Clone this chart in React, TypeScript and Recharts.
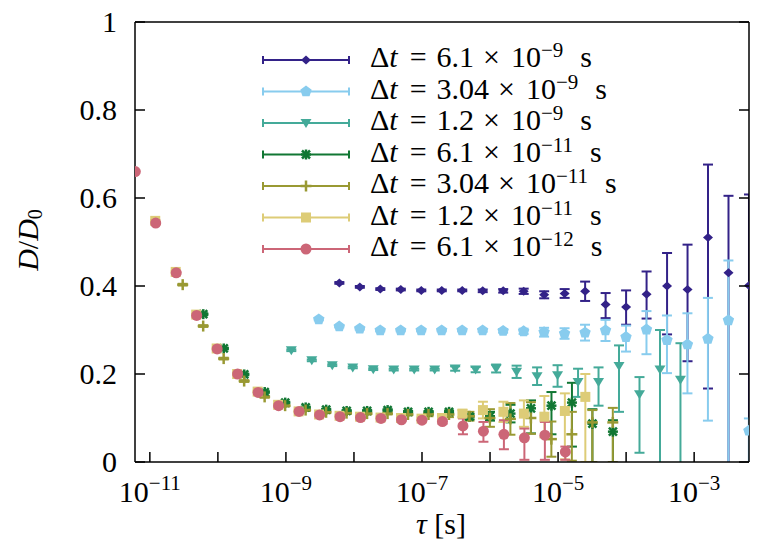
import React from "react";
import { ScatterChart, Scatter, XAxis, YAxis, ErrorBar, Legend, Label } from "recharts";

// chart box & plot frame (svg coords)
const W = 754;
const H = 542;
const MARGIN = { top: 13, right: 12, bottom: 28, left: 27 };
const Y_AXIS_W = 100;
const X_AXIS_H = 60;
const PLOT_LEFT = MARGIN.left + Y_AXIS_W;
const PLOT_TOP = MARGIN.top + 1;
const PLOT_BOTTOM = H - MARGIN.bottom - X_AXIS_H;
const PLOT_RIGHT = W - MARGIN.right - 1;
const TICK_LEN = 10;
const FONT = "'Liberation Serif', 'DejaVu Serif', serif";

const X_DOMAIN = [6.05e-12, 6.4e-3];
const X_TICKS = [1e-11, 1e-10, 1e-9, 1e-8, 1e-7, 1e-6, 1e-5, 1e-4, 1e-3];
const Y_TICKS = [0, 0.2, 0.4, 0.6, 0.8, 1];

// lag multiples of the sampling step
const LAGS = [1, 2, 4, 8, 16, 32, 64, 128, 256, 512, 1024, 2048, 4096, 8192, 16384, 32768, 65536, 131072, 262144, 524288, 1048576, 2097152];

const DT_MANT = ["6.1", "3.04", "1.2", "6.1", "3.04", "1.2", "6.1"];
const DT_EXP = [-9, -9, -9, -11, -11, -11, -12];
const COLORS = ["#332288", "#88CCEE", "#44AA99", "#117733", "#999933", "#DDCC77", "#CC6677"];
const MARKERS = ["diamond", "pentagon", "triangle", "asterisk", "plus", "square", "circle"];

const NAVY_D = [0.407, 0.398, 0.393, 0.392, 0.39, 0.39, 0.39, 0.389, 0.389, 0.388, 0.38, 0.383, 0.388, 0.358, 0.352, 0.381, 0.4, 0.392, 0.51, 0.43, 0.401];
const NAVY_LO = [0.002, 0.002, 0.002, 0.002, 0.002, 0.002, 0.002, 0.003, 0.004, 0.006, 0.008, 0.01, 0.022, 0.031, 0.04, 0.055, 0.11, 0.163, 0.343, 0.45, 0.42];
const NAVY_HI = [0.002, 0.002, 0.002, 0.002, 0.002, 0.002, 0.002, 0.003, 0.004, 0.006, 0.008, 0.01, 0.022, 0.026, 0.038, 0.052, 0.075, 0.102, 0.166, 0.175, 0.207];

const CYAN_D = [0.324, 0.308, 0.303, 0.299, 0.299, 0.299, 0.299, 0.299, 0.299, 0.298, 0.297, 0.295, 0.292, 0.294, 0.299, 0.284, 0.301, 0.277, 0.267, 0.28, 0.322, 0.071];
const CYAN_LO = [0.002, 0.002, 0.002, 0.002, 0.002, 0.002, 0.002, 0.002, 0.003, 0.004, 0.006, 0.01, 0.012, 0.018, 0.024, 0.033, 0.056, 0.075, 0.111, 0.186, 0.34, 0.1];
const CYAN_HI = [0.002, 0.002, 0.002, 0.002, 0.002, 0.002, 0.002, 0.002, 0.003, 0.004, 0.006, 0.01, 0.012, 0.018, 0.024, 0.026, 0.042, 0.056, 0.071, 0.093, 0.136, 0.028];

const TEAL_D = [0.254, 0.231, 0.22, 0.215, 0.211, 0.21, 0.21, 0.21, 0.2125, 0.21, 0.2125, 0.205, 0.195, 0.197, 0.182, 0.182, 0.218, 0.154, 0.21, 0.187];
const TEAL_LO = [0.002, 0.002, 0.002, 0.002, 0.002, 0.002, 0.002, 0.002, 0.005, 0.006, 0.009, 0.014, 0.02, 0.026, 0.034, 0.054, 0.104, 0.133, 0.25, 0.25];
const TEAL_HI = [0.002, 0.002, 0.002, 0.002, 0.002, 0.002, 0.002, 0.002, 0.005, 0.006, 0.009, 0.014, 0.02, 0.023, 0.03, 0.033, 0.047, 0.039, 0.09, 0.083];

const GREEN_D = [0.336, 0.258, 0.199, 0.159, 0.135, 0.124, 0.119, 0.116, 0.116, 0.118, 0.114, 0.114, 0.114, 0.103, 0.104, 0.11, 0.122, 0.128, 0.135, 0.087, 0.069];
const GREEN_LO = [0.002, 0.002, 0.002, 0.002, 0.002, 0.002, 0.002, 0.002, 0.002, 0.002, 0.002, 0.002, 0.003, 0.006, 0.01, 0.02, 0.057, 0.065, 0.1, 0.09, 0.08];
const GREEN_HI = [0.002, 0.002, 0.002, 0.002, 0.002, 0.002, 0.002, 0.002, 0.002, 0.002, 0.002, 0.002, 0.003, 0.006, 0.01, 0.02, 0.018, 0.031, 0.045, 0.033, 0.026];

const OLIVE_D = [0.403, 0.309, 0.235, 0.184, 0.148, 0.128, 0.118, 0.113, 0.111, 0.11, 0.11, 0.108, 0.108, 0.108, 0.104, 0.1, 0.098, 0.1, 0.052, 0.063, 0.09, 0.09];
const OLIVE_LO = [0.002, 0.002, 0.002, 0.002, 0.002, 0.002, 0.002, 0.002, 0.002, 0.002, 0.002, 0.002, 0.004, 0.006, 0.01, 0.02, 0.036, 0.036, 0.04, 0.06, 0.09, 0.09];
const OLIVE_HI = [0.002, 0.002, 0.002, 0.002, 0.002, 0.002, 0.002, 0.002, 0.002, 0.002, 0.002, 0.002, 0.004, 0.006, 0.01, 0.02, 0.036, 0.036, 0.04, 0.051, 0.028, 0.033];

const SAND_D = [0.548, 0.432, 0.335, 0.258, 0.2, 0.16, 0.13, 0.115, 0.108, 0.105, 0.103, 0.101, 0.1, 0.0985, 0.1, 0.11, 0.118, 0.114, 0.11, 0.103, 0.116, 0.148];
const SAND_LO = [0.002, 0.002, 0.002, 0.002, 0.002, 0.002, 0.002, 0.002, 0.002, 0.002, 0.002, 0.002, 0.002, 0.003, 0.004, 0.008, 0.019, 0.023, 0.03, 0.047, 0.11, 0.148];
const SAND_HI = [0.002, 0.002, 0.002, 0.002, 0.002, 0.002, 0.002, 0.002, 0.002, 0.002, 0.002, 0.002, 0.002, 0.003, 0.004, 0.008, 0.019, 0.023, 0.03, 0.047, 0.04, 0.052];

const ROSE_D = [0.66, 0.543, 0.43, 0.333, 0.257, 0.2, 0.158, 0.128, 0.115, 0.107, 0.103, 0.101, 0.099, 0.096, 0.095, 0.092, 0.082, 0.07, 0.063, 0.055, 0.061, 0.023];
const ROSE_LO = [0.002, 0.002, 0.002, 0.002, 0.002, 0.002, 0.002, 0.002, 0.002, 0.002, 0.002, 0.002, 0.002, 0.002, 0.003, 0.005, 0.019, 0.024, 0.034, 0.05, 0.056, 0.018];
const ROSE_HI = [0.002, 0.002, 0.002, 0.002, 0.002, 0.002, 0.002, 0.002, 0.002, 0.002, 0.002, 0.002, 0.002, 0.002, 0.003, 0.005, 0.017, 0.021, 0.032, 0.021, 0.03, 0.012];

const VALUES = [NAVY_D, CYAN_D, TEAL_D, GREEN_D, OLIVE_D, SAND_D, ROSE_D];
const LOWER = [NAVY_LO, CYAN_LO, TEAL_LO, GREEN_LO, OLIVE_LO, SAND_LO, ROSE_LO];
const UPPER = [NAVY_HI, CYAN_HI, TEAL_HI, GREEN_HI, OLIVE_HI, SAND_HI, ROSE_HI];

const SERIES = DT_MANT.map((mant, i) => {
  const dt = Number(`${mant}e${DT_EXP[i]}`);
  return {
    key: `s${i}`,
    mant,
    exp: DT_EXP[i],
    color: COLORS[i],
    marker: MARKERS[i],
    data: VALUES[i].map((d, k) => ({ tau: dt * LAGS[k], d, err: [LOWER[i][k], UPPER[i][k]] })),
  };
});

const Marker = ({ kind, cx, cy, color }) => {
  if (cx == null || cy == null) return null;
  switch (kind) {
    case "diamond":
      return <polygon points={`${cx},${cy - 4.5} ${cx + 5},${cy} ${cx},${cy + 4.5} ${cx - 5},${cy}`} fill={color} />;
    case "pentagon": {
      const pts = [0, 1, 2, 3, 4]
        .map((j) => {
          const a = (-90 + 72 * j) * (Math.PI / 180);
          return `${cx + 6 * Math.cos(a)},${cy + 6 * Math.sin(a)}`;
        })
        .join(" ");
      return <polygon points={pts} fill={color} />;
    }
    case "triangle":
      return <polygon points={`${cx - 5.5},${cy - 4} ${cx + 5.5},${cy - 4} ${cx},${cy + 5}`} fill={color} />;
    case "asterisk":
      return (
        <g stroke={color} strokeWidth={2.5}>
          <line x1={cx - 5} x2={cx + 5} y1={cy} y2={cy} />
          <line x1={cx} x2={cx} y1={cy - 5} y2={cy + 5} />
          <line x1={cx - 4} x2={cx + 4} y1={cy - 4} y2={cy + 4} />
          <line x1={cx - 4} x2={cx + 4} y1={cy + 4} y2={cy - 4} />
        </g>
      );
    case "plus":
      return (
        <g stroke={color} strokeWidth={2.5}>
          <line x1={cx - 5.5} x2={cx + 5.5} y1={cy} y2={cy} />
          <line x1={cx} x2={cx} y1={cy - 5.5} y2={cy + 5.5} />
        </g>
      );
    case "square":
      return <rect x={cx - 5} y={cy - 5} width={10} height={10} fill={color} />;
    default:
      return <circle cx={cx} cy={cy} r={5.5} fill={color} />;
  }
};

const BottomTick = ({ x, payload }) => {
  const exp = Math.round(Math.log10(payload.value));
  return (
    <g>
      <line x1={x} x2={x} y1={PLOT_BOTTOM} y2={PLOT_BOTTOM - TICK_LEN} stroke="#000" strokeWidth={1.5} />
      {exp % 2 !== 0 && (
        <text x={x} y={PLOT_BOTTOM + 40} textAnchor="middle" fontSize={30} fill="#000">
          10
          <tspan dy={-12} fontSize={21}>{`\u2212${-exp}`}</tspan>
        </text>
      )}
    </g>
  );
};

const TopTick = ({ x }) => (
  <line x1={x} x2={x} y1={PLOT_TOP} y2={PLOT_TOP + TICK_LEN} stroke="#000" strokeWidth={1.5} />
);

const LeftTick = ({ y, payload }) => (
  <g>
    <line x1={PLOT_LEFT} x2={PLOT_LEFT + TICK_LEN} y1={y} y2={y} stroke="#000" strokeWidth={1.5} />
    <text x={PLOT_LEFT - 18} y={y + 10} textAnchor="end" fontSize={30} fill="#000">
      {String(payload.value)}
    </text>
  </g>
);

const RightTick = ({ y }) => (
  <line x1={PLOT_RIGHT} x2={PLOT_RIGHT - TICK_LEN} y1={y} y2={y} stroke="#000" strokeWidth={1.5} />
);

const XTitle = () => (
  <text x={433} y={526} textAnchor="middle" fontSize={30} fill="#000">
    <tspan fontStyle="italic">τ</tspan> [s]
  </text>
);

const YTitle = () => (
  <text x={30} y={232} transform="rotate(-90, 30, 232)" textAnchor="middle" fontSize={30} fill="#000">
    <tspan fontStyle="italic">D</tspan>/<tspan fontStyle="italic">D</tspan>
    <tspan fontSize={20} dy={4}>0</tspan>
  </text>
);

const LegendBox = () => (
  <svg width={460} height={230} style={{ fontFamily: FONT, overflow: "visible" }}>
    {SERIES.map((s, i) => {
      const cy = 20 + i * 31.5;
      return (
        <g key={s.key}>
          <g stroke={s.color} strokeWidth={2}>
            <line x1={8} x2={94} y1={cy} y2={cy} />
            <line x1={8} x2={8} y1={cy - 4} y2={cy + 4} />
            <line x1={94} x2={94} y1={cy - 4} y2={cy + 4} />
          </g>
          <Marker kind={s.marker} cx={51} cy={cy} color={s.color} />
          <text x={115} y={cy + 7} fontSize={30} fill="#000">
            Δ<tspan fontStyle="italic">t</tspan>
            <tspan dx={12}>=</tspan>
            <tspan dx={10}>{s.mant}</tspan>
            <tspan dx={9}>{"\u00d7"}</tspan>
            <tspan dx={11}>10</tspan>
            <tspan dy={-10} fontSize={21}>{`\u2212${-s.exp}`}</tspan>
            <tspan dy={10} dx={17}>s</tspan>
          </text>
        </g>
      );
    })}
  </svg>
);

const App = () => {
  const clipW = PLOT_RIGHT - PLOT_LEFT;
  const clipH = PLOT_BOTTOM - PLOT_TOP;
  return (
    <div style={{ position: "relative", width: W, height: H, fontFamily: FONT }}>
      <style>{".recharts-errorBars, .recharts-scatter { clip-path: url(#plot-clip); }"}</style>
      <svg width={0} height={0} style={{ position: "absolute" }}>
        <defs>
          <clipPath id="plot-clip" clipPathUnits="userSpaceOnUse">
            <rect x={PLOT_LEFT} y={PLOT_TOP} width={clipW} height={clipH} />
          </clipPath>
        </defs>
      </svg>
      <ScatterChart width={W} height={H} margin={MARGIN}>
        <XAxis
          dataKey="tau"
          type="number"
          scale="log"
          domain={X_DOMAIN}
          ticks={X_TICKS}
          interval={0}
          allowDataOverflow
          height={X_AXIS_H}
          tickLine={false}
          axisLine={{ stroke: "#000", strokeWidth: 1.5 }}
          tick={<BottomTick />}>
          <Label content={<XTitle />} />
        </XAxis>
        <XAxis
          xAxisId="top"
          orientation="top"
          type="number"
          scale="log"
          domain={X_DOMAIN}
          ticks={X_TICKS}
          interval={0}
          allowDataOverflow
          height={1}
          tickLine={false}
          axisLine={{ stroke: "#000", strokeWidth: 1.5 }}
          tick={<TopTick />}
        />
        <YAxis
          dataKey="d"
          type="number"
          domain={[0, 1]}
          ticks={Y_TICKS}
          interval={0}
          allowDataOverflow
          width={Y_AXIS_W}
          tickLine={false}
          axisLine={{ stroke: "#000", strokeWidth: 1.5 }}
          tick={<LeftTick />}>
          <Label content={<YTitle />} />
        </YAxis>
        <YAxis
          yAxisId="right"
          orientation="right"
          type="number"
          domain={[0, 1]}
          ticks={Y_TICKS}
          interval={0}
          allowDataOverflow
          width={1}
          tickLine={false}
          axisLine={{ stroke: "#000", strokeWidth: 1.5 }}
          tick={<RightTick />}
        />
        {SERIES.map((s) => (
          <Scatter
            key={s.key}
            name={s.key}
            data={s.data}
            fill={s.color}
            isAnimationActive={false}
            shape={(p) => <Marker kind={s.marker} cx={p.cx} cy={p.cy} color={s.color} />}>
            <ErrorBar dataKey="err" direction="y" width={5} stroke={s.color} strokeWidth={2} isAnimationActive={false} />
          </Scatter>
        ))}
        <Legend
          layout="vertical"
          align="center"
          verticalAlign="middle"
          content={<LegendBox />}
          wrapperStyle={{ left: 247, top: 32, width: 460, height: 230 }}
        />
      </ScatterChart>
    </div>
  );
};

export default App;
